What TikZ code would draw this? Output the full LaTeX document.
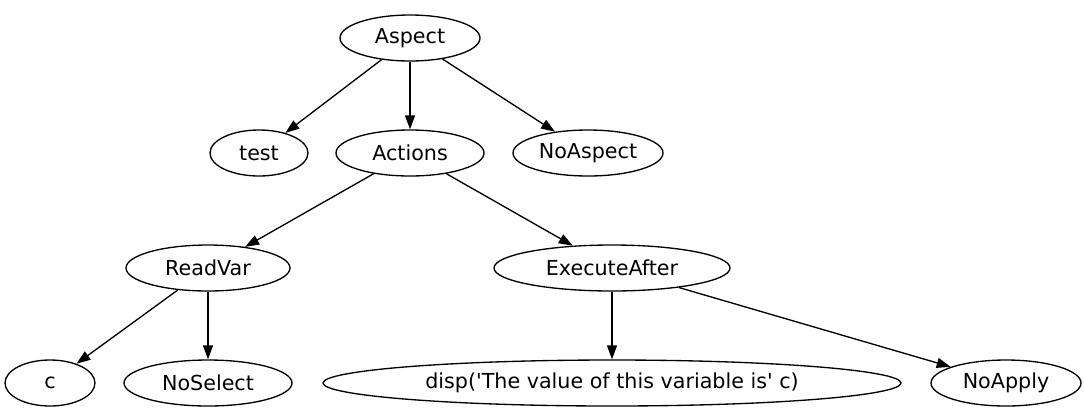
\documentclass[tikz,border=0pt]{standalone}
\usepackage{fontspec}
\setmainfont{DejaVu Sans}
\usetikzlibrary{arrows.meta, shapes.geometric}
\tikzset{
  treenode/.style = {ellipse, draw, line width=1pt, inner sep=0pt,
                     minimum height=34.5pt, font=\fontsize{15.5}{18}\selectfont},
  treeedge/.style = {draw, line width=1pt,
                     -{Triangle[length=10.5pt, width=7.5pt]}},
}
\begin{document}
\begin{tikzpicture}[x=0.75pt, y=-0.75pt]
  \useasboundingbox (0,0) rectangle (1084,412);
  % level 0
  \node[treenode, minimum width=105pt]   (aspect)   at (410,38)  {Aspect};
  % level 1
  \node[treenode, minimum width=73.5pt]  (test)     at (259,153) {test};
  \node[treenode, minimum width=111pt]   (actions)  at (410,153) {Actions};
  \node[treenode, minimum width=112.5pt] (noaspect) at (588,153) {NoAspect};
  % level 2
  \node[treenode, minimum width=123pt]   (readvar)  at (208,268) {ReadVar};
  \node[treenode, minimum width=177pt]   (execafter) at (612,268) {ExecuteAfter};
  % level 3
  \node[treenode, minimum width=67.5pt]  (cvar)     at (50,383)  {c};
  \node[treenode, minimum width=126pt]   (noselect) at (208,383) {NoSelect};
  \node[treenode, minimum width=433.5pt] (disp)     at (612,383)
    {disp(\textquotesingle The value of this variable is\textquotesingle{} c)};
  \node[treenode, minimum width=112.5pt] (noapply)  at (1006,383) {NoApply};
  \foreach \a/\b in {aspect/test, aspect/actions, aspect/noaspect,
                     actions/readvar, actions/execafter,
                     readvar/cvar, readvar/noselect,
                     execafter/disp, execafter/noapply}
    {\draw[treeedge] (\a) -- (\b);}
\end{tikzpicture}
\end{document}
